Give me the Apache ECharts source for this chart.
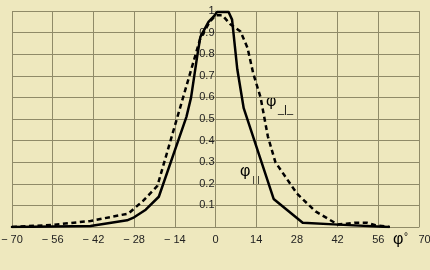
<!DOCTYPE html>
<html>
<head>
<meta charset="utf-8">
<script src="https://cdn.jsdelivr.net/npm/echarts@6/dist/echarts.min.js"></script>
<style>
html,body{margin:0;padding:0;background:#EEE8BE;}
#c{width:430px;height:270px;}
</style>
</head>
<body>
<div id="c"></div>
<script>
// φ_|| (solid) : angle in degrees, relative value
const parAngles = [-70, -56, -43, -30.4, -28, -24, -19.5, -10, -8.4, -6.3, -5.2, -2.4, -0.6, 0.5, 4.5, 5.7, 7.5, 9.7, 20, 30, 42.3, 59.5];
const parValues = [0, 0.002, 0.005, 0.031, 0.045, 0.08, 0.14, 0.51, 0.6, 0.79, 0.88, 0.95, 0.975, 0.995, 0.995, 0.96, 0.73, 0.55, 0.13, 0.02, 0.011, 0];
// φ_⊥ (dashed)
const perpAngles = [-70, -56, -43, -30, -25, -20, -14.6, -5.3, -2, 0, 2.4, 5, 8.6, 11, 13, 15.5, 18, 20.6, 28, 34.4, 42, 45, 48, 52, 55, 60];
const perpValues = [0, 0.01, 0.028, 0.062, 0.12, 0.19, 0.44, 0.87, 0.95, 0.98, 0.98, 0.94, 0.905, 0.83, 0.71, 0.6, 0.42, 0.3, 0.155, 0.072, 0.012, 0.015, 0.02, 0.02, 0.008, 0];
// axis ticks
const xMin = -70, xMax = 70, xStep = 14;
const yMin = 0, yMax = 1, yStep = 0.1;
const xAxisName = 'φ';
const degSign = '°';
const perpLabel = 'φ', perpSub = '_|_';
const parLabel = 'φ', parSub = '| |';

const gridColor = '#8f8a68';
const textColor = '#222';
const font = 'Liberation Sans, Arial, sans-serif';
const gridLeft = 12, gridRight = 11;

const chart = echarts.init(document.getElementById('c'), null, {renderer: 'canvas'});
const pairs = (a, b) => a.map((x, i) => [x, b[i]]);
// place the value axis on the zero angle (shift from the left edge of the grid)
const plotW = 430 - gridLeft - gridRight;
const zeroShift = plotW * (0 - xMin) / (xMax - xMin);

chart.setOption({
  backgroundColor: '#EEE8BE',
  animation: false,
  grid: {left: gridLeft, right: gridRight, top: 11, bottom: 43, containLabel: false, outerBoundsMode: 'none'},
  xAxis: {
    type: 'value', min: xMin, max: xMax, interval: xStep,
    axisLine: {show: true, lineStyle: {color: gridColor, width: 1}},
    axisTick: {show: false},
    splitLine: {show: true, lineStyle: {color: gridColor, width: 1}},
    axisLabel: {
      margin: 7, color: textColor, fontFamily: font, fontSize: 11,
      showMinLabel: true, showMaxLabel: true,
      formatter: v => v < 0 ? '\u2212 ' + Math.abs(v) : (v === xMax ? '{r|' + v + '}' : String(v)),
      rich: {r: {padding: [0, 0, 0, 11], fontFamily: font, fontSize: 11, color: textColor}}
    }
  },
  yAxis: {
    type: 'value', min: yMin, max: yMax, interval: yStep,
    offset: -zeroShift,
    axisLine: {show: true, onZero: false, lineStyle: {color: gridColor, width: 1}},
    axisTick: {show: false},
    splitLine: {show: true, lineStyle: {color: gridColor, width: 1}},
    axisLabel: {
      margin: 1, color: textColor, fontFamily: font, fontSize: 11,
      showMinLabel: true, showMaxLabel: true,
      formatter: v => v === 0 ? '' : String(Math.round(v * 10) / 10)
    }
  },
  series: [
    {
      type: 'line', data: pairs(parAngles, parValues), showSymbol: false, smooth: false,
      lineStyle: {color: '#000', width: 2.5, join: 'round', cap: 'round'}, z: 3
    },
    {
      type: 'line', data: pairs(perpAngles, perpValues), showSymbol: false, smooth: false,
      lineStyle: {color: '#000', width: 2.5, type: [5, 3.5]}, z: 4
    }
  ],
  graphic: [
    {type: 'text', left: 266, top: 94, style: {text: perpLabel, font: '16px ' + font, fill: '#000'}},
    {type: 'text', left: 278, top: 104, style: {text: perpSub, font: '11px ' + font, fill: '#000'}},
    {type: 'text', left: 240, top: 164, style: {text: parLabel, font: '16px ' + font, fill: '#000'}},
    {type: 'text', left: 252.5, top: 176, style: {text: parSub, font: '9px ' + font, fill: '#000'}},
    {type: 'text', left: 393, top: 232, style: {text: xAxisName, font: '16px ' + font, fill: '#000'}},
    {type: 'text', left: 404, top: 232, style: {text: degSign, font: '10px ' + font, fill: '#000'}}
  ]
});
</script>
</body>
</html>
